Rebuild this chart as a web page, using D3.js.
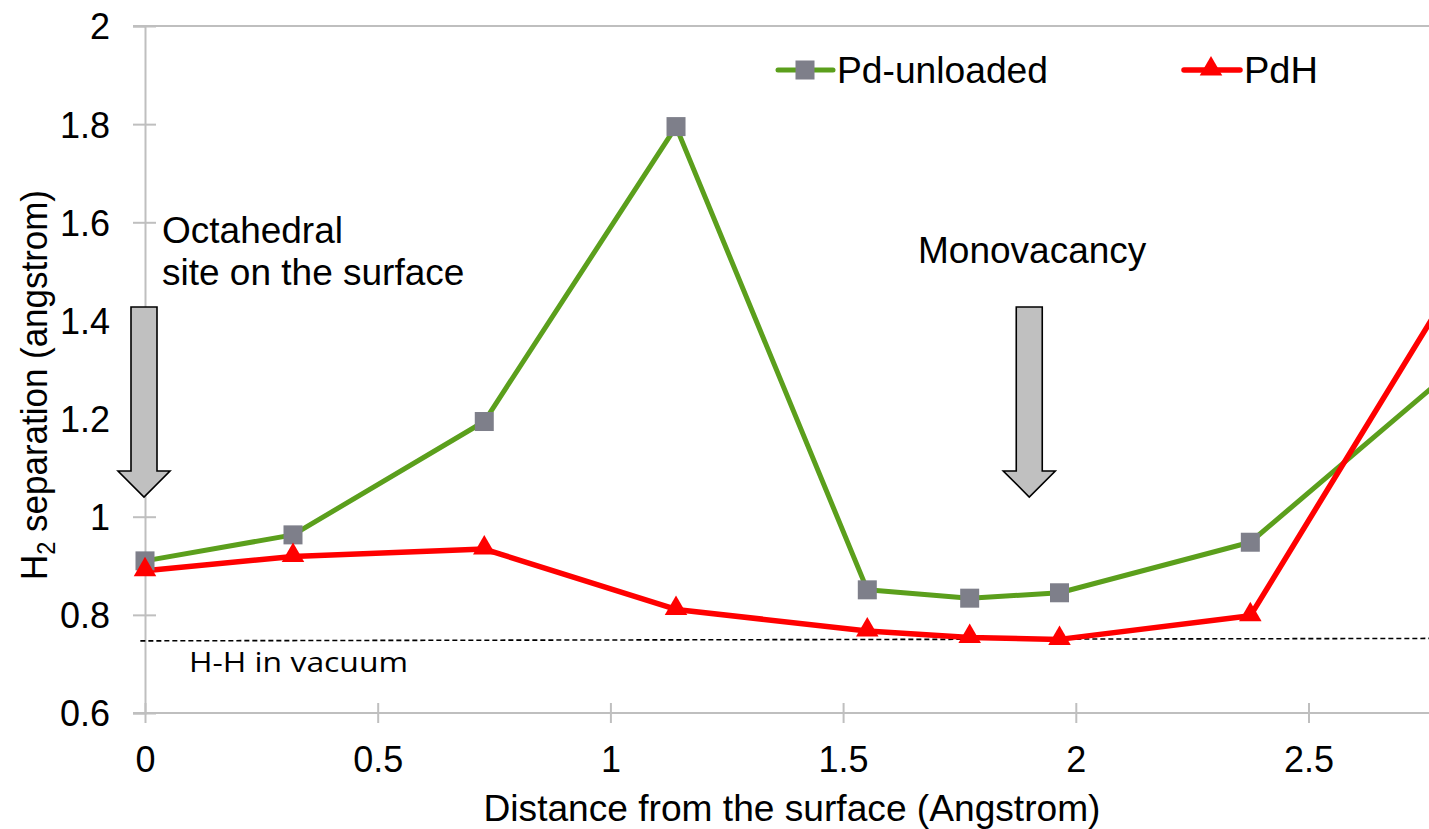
<!DOCTYPE html>
<html>
<head>
<meta charset="utf-8">
<script src="https://cdn.jsdelivr.net/npm/d3@7"></script>
<style>
  html, body { margin: 0; padding: 0; background: #fff; overflow: hidden; }
  svg { display: block; }
  text { font-family: "Liberation Sans", Arial, sans-serif; fill: #000; }
</style>
</head>
<body>
<svg id="chart" width="1429" height="829"></svg>
<script>
// Distance of the H2 centre from the Pd surface (Å)
const distance = [0, 0.318, 0.729, 1.141, 1.552, 1.772, 1.965, 2.375, 2.8];
// H–H separation along the path (Å)
const pdUnloaded = [0.910, 0.963, 1.194, 1.795, 0.851, 0.834, 0.845, 0.948, 1.291];
const pdH        = [0.890, 0.919, 0.934, 0.811, 0.767, 0.754, 0.750, 0.798, 1.457];
// Markers are only drawn for the points inside the plotted range
const markerCount = 8;

const xTicks = [0, 0.5, 1, 1.5, 2, 2.5];
const yTicks = [0.6, 0.8, 1, 1.2, 1.4, 1.6, 1.8, 2];
const vacuumBond = [0.747, 0.752]; // H–H bond length in vacuum, reference line

const seriesNames = ["Pd-unloaded", "PdH"];
const annotations = [
  { lines: ["Octahedral", "site on the surface"], at: 0 },
  { lines: ["Monovacancy"], at: 1.9 }
];

const svg = d3.select("#chart");
const x = d3.scaleLinear().domain([0, 2.76]).range([145, 1429.5]);
const y = d3.scaleLinear().domain([0.6, 2]).range([713, 26]);

const axisGrey = "#bfbfbf";
const green = "#5b9f1c";
const red = "#ff0000";
const squareFill = "#7e7f8a";

// top border of the plot area
svg.append("line")
  .attr("x1", 133).attr("x2", 1429)
  .attr("y1", y(2)).attr("y2", y(2))
  .attr("stroke", axisGrey).attr("stroke-width", 2);

// y axis
const yAxis = d3.axisLeft(y).tickValues(yTicks)
  .tickFormat(d => String(+d.toFixed(1)))
  .tickSize(12).tickPadding(23);
const gy = svg.append("g").attr("transform", `translate(${x(0)},0)`).call(yAxis);
gy.select(".domain").attr("stroke", axisGrey).attr("stroke-width", 2);
gy.selectAll(".tick line").attr("stroke", axisGrey).attr("stroke-width", 2)
  .attr("x1", 11).attr("x2", -12);
gy.selectAll(".tick text")
  .style("font-family", "Liberation Sans, Arial, sans-serif")
  .style("font-size", "36px").attr("fill", "#000").attr("dy", "0.36em");

// x axis
const xAxis = d3.axisBottom(x).tickValues(xTicks)
  .tickFormat(d => String(d))
  .tickSize(10).tickPadding(17);
const gx = svg.append("g").attr("transform", `translate(0,${y(0.6)})`).call(xAxis);
gx.select(".domain").attr("stroke", axisGrey).attr("stroke-width", 2)
  .attr("d", `M133,0H1429`);
gx.selectAll(".tick line").attr("stroke", axisGrey).attr("stroke-width", 2)
  .attr("y1", -10).attr("y2", 10);
gx.selectAll(".tick text")
  .style("font-family", "Liberation Sans, Arial, sans-serif")
  .style("font-size", "36px").attr("fill", "#000")
  .attr("dy", "0.9em");

// axis titles
svg.append("text")
  .attr("x", 792).attr("y", 821)
  .attr("text-anchor", "middle")
  .style("font-size", "37px")
  .attr("textLength", 617).attr("lengthAdjust", "spacingAndGlyphs")
  .text("Distance from the surface (Angstrom)");

const yTitle = svg.append("text")
  .attr("transform", "translate(47,385) rotate(-90)")
  .attr("text-anchor", "middle")
  .style("font-size", "37px")
  .attr("textLength", 390).attr("lengthAdjust", "spacingAndGlyphs");
yTitle.append("tspan").text("H");
yTitle.append("tspan").attr("dy", 8).style("font-size", "25px").text("2");
yTitle.append("tspan").attr("dy", -8).text(" separation (angstrom)");

// H–H bond length in vacuum
svg.append("line")
  .attr("x1", x(-0.01)).attr("x2", 1429)
  .attr("y1", y(vacuumBond[0])).attr("y2", y(vacuumBond[1]))
  .attr("stroke", "#000").attr("stroke-width", 1.6)
  .attr("stroke-dasharray", "5,3");
svg.append("text")
  .attr("x", 189).attr("y", 672)
  .style("font-family", "'Open Sans', 'Noto Sans', sans-serif")
  .style("font-size", "28px")
  .attr("textLength", 219).attr("lengthAdjust", "spacingAndGlyphs")
  .text("H-H in vacuum");

// site markers: block arrows pointing down onto the path
function blockArrow(cx) {
  const top = 307, neck = 471, tip = 497, halfShaft = 13, halfHead = 26;
  return `M${cx - halfShaft},${top}H${cx + halfShaft}V${neck}H${cx + halfHead}` +
         `L${cx},${tip}L${cx - halfHead},${neck}H${cx - halfShaft}Z`;
}
svg.append("path").attr("d", blockArrow(x(annotations[0].at) - 1))
  .attr("fill", "#c0c0c0").attr("stroke", "#000").attr("stroke-width", 1.6);
svg.append("path").attr("d", blockArrow(x(annotations[1].at)))
  .attr("fill", "#c0c0c0").attr("stroke", "#000").attr("stroke-width", 1.6);

const ann1 = svg.append("text").attr("x", 162).attr("y", 243).style("font-size", "37px");
ann1.append("tspan").attr("x", 162).text(annotations[0].lines[0]);
ann1.append("tspan").attr("x", 162).attr("dy", 42).text(annotations[0].lines[1]);
svg.append("text").attr("x", 918).attr("y", 263).style("font-size", "37px")
  .text(annotations[1].lines[0]);

// series lines
const line = d3.line().x(d => x(d[0])).y(d => y(d[1]));
const greenPts = distance.map((d, i) => [d, pdUnloaded[i]]);
const redPts = distance.map((d, i) => [d, pdH[i]]);

svg.append("path").datum(greenPts).attr("d", line)
  .attr("fill", "none").attr("stroke", green).attr("stroke-width", 5)
  .attr("stroke-linejoin", "round");
svg.append("path").datum(redPts).attr("d", line)
  .attr("fill", "none").attr("stroke", red).attr("stroke-width", 5.5)
  .attr("stroke-linejoin", "round");

const sq = 19;
svg.append("g").selectAll("rect").data(greenPts.slice(0, markerCount)).join("rect")
  .attr("x", d => x(d[0]) - sq / 2).attr("y", d => y(d[1]) - sq / 2)
  .attr("width", sq).attr("height", sq).attr("fill", squareFill);

const tri = d3.symbol().type(d3.symbolTriangle).size(220);
svg.append("g").selectAll("path").data(redPts.slice(0, markerCount)).join("path")
  .attr("transform", d => `translate(${x(d[0])},${y(d[1]) - 1})`)
  .attr("d", tri).attr("fill", red);

// legend
const legend = svg.append("g");
legend.append("line").attr("x1", 778).attr("x2", 833).attr("y1", 70).attr("y2", 70)
  .attr("stroke", green).attr("stroke-width", 5).attr("stroke-linecap", "round");
legend.append("rect").attr("x", 805 - sq / 2).attr("y", 70 - sq / 2)
  .attr("width", sq).attr("height", sq).attr("fill", squareFill);
legend.append("text").attr("x", 837).attr("y", 83).style("font-size", "37px")
  .attr("textLength", 211).attr("lengthAdjust", "spacingAndGlyphs")
  .text(seriesNames[0]);

legend.append("line").attr("x1", 1184).attr("x2", 1240).attr("y1", 70).attr("y2", 70)
  .attr("stroke", red).attr("stroke-width", 5.5).attr("stroke-linecap", "round");
legend.append("path").attr("transform", "translate(1211,69)").attr("d", tri).attr("fill", red);
legend.append("text").attr("x", 1244).attr("y", 83).style("font-size", "37px")
  .attr("textLength", 74).attr("lengthAdjust", "spacingAndGlyphs")
  .text(seriesNames[1]);
</script>
</body>
</html>
